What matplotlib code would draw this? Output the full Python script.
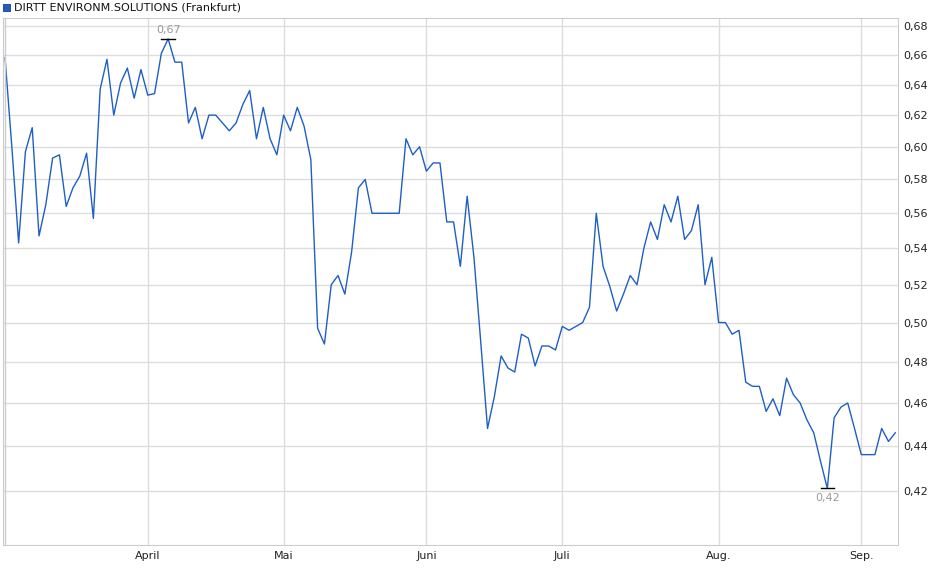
import matplotlib
matplotlib.use("Agg")
import matplotlib.pyplot as plt
from matplotlib.ticker import FixedLocator, NullLocator, FuncFormatter

values = [0.658, 0.600, 0.543, 0.597, 0.612, 0.547, 0.565, 0.593, 0.595, 0.564,
          0.575, 0.582, 0.596, 0.557, 0.637, 0.657, 0.620, 0.641, 0.651, 0.631,
          0.650, 0.633, 0.634, 0.661, 0.671, 0.655, 0.655, 0.615, 0.625, 0.605,
          0.620, 0.620, 0.615, 0.610, 0.615, 0.627, 0.636, 0.605, 0.625, 0.605,
          0.595, 0.620, 0.610, 0.625, 0.613, 0.592, 0.497, 0.489, 0.520, 0.525,
          0.515, 0.538, 0.575, 0.580, 0.560, 0.560, 0.560, 0.560, 0.560, 0.605,
          0.595, 0.600, 0.585, 0.590, 0.590, 0.555, 0.555, 0.530, 0.570, 0.535,
          0.490, 0.448, 0.463, 0.483, 0.477, 0.475, 0.494, 0.492, 0.478, 0.488,
          0.488, 0.486, 0.498, 0.496, 0.498, 0.500, 0.508, 0.560, 0.530, 0.519,
          0.506, 0.515, 0.525, 0.520, 0.540, 0.555, 0.545, 0.565, 0.555, 0.570,
          0.545, 0.550, 0.565, 0.520, 0.535, 0.500, 0.500, 0.494, 0.496, 0.470,
          0.468, 0.468, 0.456, 0.462, 0.454, 0.472, 0.464, 0.460, 0.452, 0.446,
          0.433, 0.421, 0.453, 0.458, 0.460, 0.448, 0.436, 0.436, 0.436, 0.448,
          0.442, 0.446]
month_labels = ["April", "Mai", "Juni", "Juli", "Aug.", "Sep."]
month_pos = [21, 41, 62, 82, 105, 126]
y_ticks = [0.42, 0.44, 0.46, 0.48, 0.50, 0.52, 0.54, 0.56, 0.58, 0.60, 0.62, 0.64, 0.66, 0.68]

fig = plt.figure(figsize=(9.4, 5.79), dpi=100)
ax = fig.add_axes([3/940, 1-545/579, 895/940, 527/579])
x = list(range(len(values)))
ax.plot(x, values, color="#1f5fc4", lw=1.0)
ax.set_yscale("log")
ax.set_ylim(0.397, 0.6857)
ax.set_xlim(-0.3, len(values) - 0.6)
ax.yaxis.set_major_locator(FixedLocator(y_ticks))
ax.yaxis.set_minor_locator(NullLocator())
ax.yaxis.set_major_formatter(FuncFormatter(lambda v, p: f"{v:.2f}".replace(".", ",")))
ax.yaxis.tick_right()
ax.set_xticks(month_pos)
ax.set_xticklabels(month_labels)
ax.tick_params(axis="both", labelsize=8, length=0, pad=4, colors="#222222")
ax.grid(True, color="#dddddd", lw=1)
for s in ax.spines.values():
    s.set_color("#cccccc")
ax.axvline(0, color="#cccccc", lw=1)

imax = values.index(max(values))
imin = values.index(min(values))
ax.plot([imax-1, imax+1], [values[imax]]*2, color="black", lw=1)
ax.plot([imin-1, imin+1], [values[imin]]*2, color="black", lw=1)
ax.annotate(f"{values[imax]:.2f}".replace(".", ","), (imax, values[imax]), xytext=(0, 3),
            textcoords="offset points", ha="center", va="bottom", fontsize=8, color="#999999")
ax.annotate(f"{values[imin]:.2f}".replace(".", ","), (imin, values[imin]), xytext=(0, -3),
            textcoords="offset points", ha="center", va="top", fontsize=8, color="#999999")

fig.patches.append(plt.Rectangle((3/940, 1-11/579), 7/940, 7/579, transform=fig.transFigure,
                                 facecolor="#1f5fc4", edgecolor="#1a3a7a", lw=0.6))
fig.text(14/940, 1-7.5/579, "DIRTT ENVIRONM.SOLUTIONS (Frankfurt)", fontsize=8, va="center", color="#111111")

fig.savefig("out.png", dpi=100)
